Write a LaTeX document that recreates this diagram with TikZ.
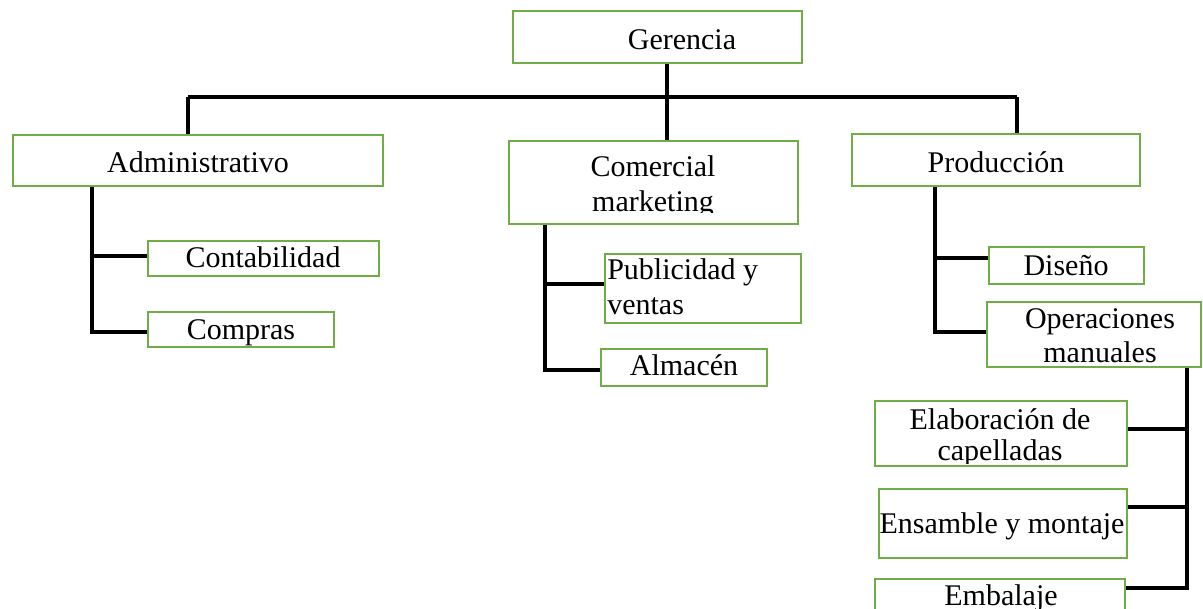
\documentclass[tikz,border=0pt]{standalone}
\usepackage{fontspec}
\setmainfont{Liberation Serif}
\usetikzlibrary{fit}
\definecolor{boxgreen}{HTML}{70AD47}
\begin{document}
\begin{tikzpicture}[x=0.75pt,y=-0.75pt,
  box/.style={draw=boxgreen, line width=2.2pt, inner sep=0pt, rectangle},
  txt/.style={anchor=base, inner sep=0pt, font=\fontsize{22.5}{27}\selectfont},
  link/.style={line width=3pt, draw=black, line join=miter}]
\clip (0,0) rectangle (1203,609);
\fill[white] (0,0) rectangle (1203,609);
% boxes
\node[box, fit={(513,11) (802,63)}] (ger) {};
\node[box, fit={(13,135) (383,186)}] (adm) {};
\node[box, fit={(509,141) (798,224)}] (com) {};
\node[box, fit={(852,134) (1140,186)}] (pro) {};
\node[box, fit={(148,241) (379,276)}] (con) {};
\node[box, fit={(148,312) (334,347)}] (cmp) {};
\node[box, fit={(605,254) (801,323)}] (pub) {};
\node[box, fit={(601,349) (767,386)}] (alm) {};
\node[box, fit={(989,247) (1144,284)}] (dis) {};
\node[box, fit={(987,302) (1201,367)}] (ops) {};
\node[box, fit={(875,401) (1127,466)}] (ela) {};
\node[box, fit={(879,489) (1127,558)}] (ens) {};
\node[box, fit={(875,579) (1125,640)}] (emb) {};
% texts
\node[txt] (tger) at (682,50) {Gerencia};
\node[txt] (tadm) at (198,173) {Administrativo};
\node[txt] (tcom1) at (653,177) {Comercial};
\begin{scope}
  \clip (509,141) rectangle (798,213);
  \node[txt] (tcom2) at (653,212) {marketing};
\end{scope}
\node[txt] (tpro) at (996,173) {Producción};
\node[txt] (tcon) at (263,268) {Contabilidad};
\node[txt] (tcmp) at (241,340) {Compras};
\node[txt, anchor=base west] (tpub1) at (607,280) {Publicidad y};
\node[txt, anchor=base west] (tpub2) at (607,315) {ventas};
\node[txt] (talm) at (684,376) {Almacén};
\node[txt] (tdis) at (1066,276) {Diseño};
\node[txt] (tops1) at (1100,329) {Operaciones};
\begin{scope}
  \clip (987,302) rectangle (1201,364);
  \node[txt] (tops2) at (1100,363) {manuales};
\end{scope}
\node[txt] (tela1) at (1000,430) {Elaboración de};
\begin{scope}
  \clip (875,401) rectangle (1127,463);
  \node[txt] (tela2) at (1000,460) {capelladas};
\end{scope}
\node[txt] (tens) at (1002,533) {Ensamble y montaje};
\node[txt] (temb) at (1001,605) {Embalaje};
% connectors
\coordinate (hA) at (188,97);
\coordinate (hC) at (667,97);
\coordinate (hP) at (1017,97);
\draw[link] (hA) -- (hP);
\draw[link] (hA) -- (hA |- adm.north);
\draw[link] (hP) -- (hP |- pro.north);
\draw[link] (hC |- ger.south) -- (hC |- com.north);
% administrativo
\coordinate (a1) at (92,256);
\coordinate (a2) at (92,332);
\draw[link] (a1 |- adm.south) -- (a2) -- (a2 -| cmp.west);
\draw[link] (a1) -- (a1 -| con.west);
% comercial
\coordinate (c1) at (545,284);
\coordinate (c2) at (545,370);
\draw[link] (c1 |- com.south) -- (c2) -- (c2 -| alm.west);
\draw[link] (c1) -- (c1 -| pub.west);
% produccion
\coordinate (p1) at (935,258);
\coordinate (p2) at (935,332);
\draw[link] (p1 |- pro.south) -- (p2) -- (p2 -| ops.west);
\draw[link] (p1) -- (p1 -| dis.west);
% operaciones manuales
\coordinate (o1) at (1187,429);
\coordinate (o2) at (1187,507);
\coordinate (o3) at (1187,588);
\draw[link] (o1 |- ops.south) -- (o3) -- (o3 -| emb.east);
\draw[link] (o1) -- (o1 -| ela.east);
\draw[link] (o2) -- (o2 -| ens.east);
\end{tikzpicture}
\end{document}
